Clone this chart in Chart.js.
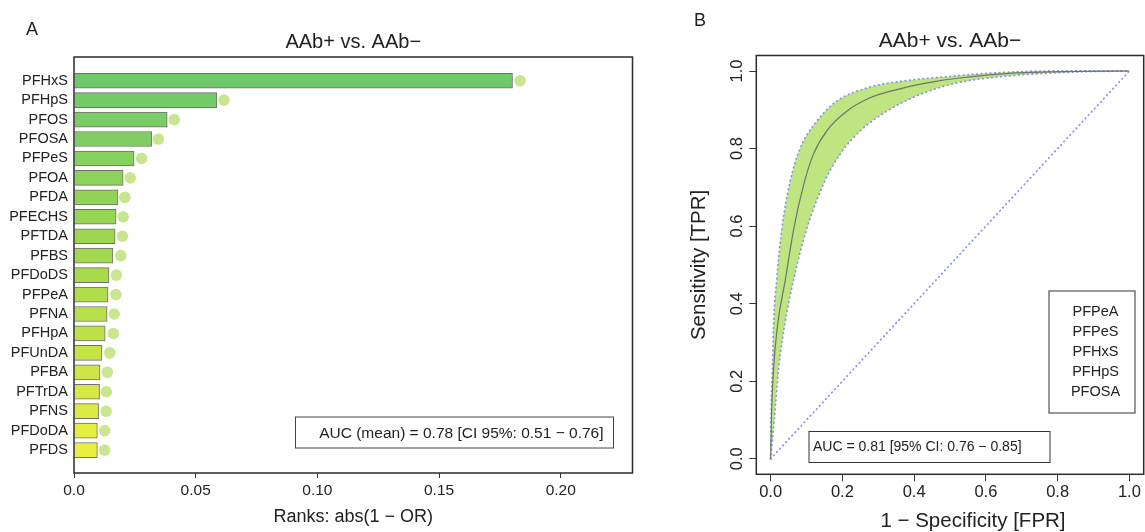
<!DOCTYPE html>
<html lang="en">
<head>
  <meta charset="UTF-8" />
  <title>AAb+ vs. AAb- ranks and ROC</title>
  <script src="https://cdn.jsdelivr.net/npm/chart.js"></script>
  <style>
    body {
      margin: 0;
      background: #fff;
      width: 1145px;
      height: 532px;
      overflow: hidden;
      position: relative;
    }
    canvas {
      position: absolute;
      top: 0;
    }
    #rankChart { left: 0; }
    #rocChart { left: 680px; }
  </style>
</head>
<body>
  <canvas id="rankChart" width="645" height="532"></canvas>
  <canvas id="rocChart" width="465" height="532"></canvas>
  <script>
    // panel A data
    const categories = ['PFHxS', 'PFHpS', 'PFOS', 'PFOSA', 'PFPeS', 'PFOA', 'PFDA', 'PFECHS', 'PFTDA', 'PFBS',
      'PFDoDS', 'PFPeA', 'PFNA', 'PFHpA', 'PFUnDA', 'PFBA', 'PFTrDA', 'PFNS', 'PFDoDA', 'PFDS'];
    const rankValues = [0.1802, 0.0587, 0.0383, 0.0319, 0.0247, 0.0202, 0.0181, 0.0173, 0.0169, 0.0160,
      0.0144, 0.0140, 0.0136, 0.0128, 0.0115, 0.0107, 0.0105, 0.0101, 0.0096, 0.0096];
    const dotValues = [0.1833, 0.0616, 0.0412, 0.0347, 0.0278, 0.0231, 0.0209, 0.0202, 0.0199, 0.0192,
      0.0174, 0.0172, 0.0165, 0.0162, 0.0147, 0.0137, 0.0133, 0.0132, 0.0126, 0.0126];
    const rankTicks = [0, 0.05, 0.10, 0.15, 0.20];
    const rankTickLabels = ['0.0', '0.05', '0.10', '0.15', '0.20'];

    // panel B data
    const meanFpr = [0, 0.002, 0.008, 0.020, 0.041, 0.064, 0.093, 0.119, 0.156, 0.212, 0.277, 0.369, 0.452, 0.527, 0.684, 0.850, 1];
    const meanTpr = [0, 0.10, 0.23, 0.35, 0.462, 0.591, 0.71, 0.785, 0.845, 0.896, 0.931, 0.956, 0.972, 0.982, 0.995, 0.999, 1];
    const upperFpr = [0, 0.001, 0.005, 0.008, 0.017, 0.031, 0.054, 0.082, 0.128, 0.184, 0.267, 0.360, 0.499, 0.620, 0.776, 1];
    const upperTpr = [0, 0.10, 0.23, 0.34, 0.462, 0.591, 0.714, 0.80, 0.87, 0.922, 0.956, 0.973, 0.986, 0.995, 1.0, 1];
    const lowerFpr = [0, 0.010, 0.022, 0.040, 0.064, 0.100, 0.150, 0.193, 0.249, 0.323, 0.415, 0.518, 0.684, 0.870, 1];
    const lowerTpr = [0, 0.10, 0.23, 0.35, 0.462, 0.591, 0.714, 0.785, 0.845, 0.896, 0.939, 0.969, 0.989, 0.998, 1];
    const rocTicks = [0, 0.2, 0.4, 0.6, 0.8, 1.0];
    const rocTickLabels = ['0.0', '0.2', '0.4', '0.6', '0.8', '1.0'];
    const legendItems = ['PFPeA', 'PFPeS', 'PFHxS', 'PFHpS', 'PFOSA'];

    const FONT = "'Liberation Sans', Arial, Helvetica, sans-serif";
    const INK = '#222';

    function pts(xs, ys) {
      return xs.map((x, i) => ({ x: x, y: ys[i] }));
    }

    // green -> yellow ramp for the bars
    function rampColor(i, n) {
      const stops = [[111, 201, 106], [165, 217, 76], [235, 240, 64]];
      const t = i / (n - 1) * 2;
      const k = Math.min(1, Math.floor(t));
      const f = t - k;
      const a = stops[k], b = stops[k + 1];
      const c = a.map((v, j) => Math.round(v + (b[j] - v) * f));
      return `rgb(${c[0]},${c[1]},${c[2]})`;
    }

    const rankDecor = {
      id: 'rankDecor',
      afterDraw(chart) {
        const { ctx, chartArea: ca } = chart;
        ctx.save();
        ctx.strokeStyle = '#2b2b2b';
        ctx.lineWidth = 1.5;
        ctx.strokeRect(ca.left, ca.top, ca.right - ca.left, ca.bottom - ca.top);

        ctx.fillStyle = INK;
        ctx.textBaseline = 'middle';
        ctx.textAlign = 'center';
        ctx.font = `18px ${FONT}`;
        ctx.fillText('A', 32, 30);
        ctx.font = `20px ${FONT}`;
        ctx.fillText('AAb+ vs. AAb\u2212', (ca.left + ca.right) / 2, 42);

        // AUC box
        const bx = ca.right - 337, by = ca.bottom - 56, bw = 318, bh = 31;
        ctx.lineWidth = 1;
        ctx.strokeStyle = '#444';
        ctx.strokeRect(bx, by, bw, bh);
        ctx.font = `15.5px ${FONT}`;
        ctx.textAlign = 'right';
        ctx.fillText('AUC (mean) = 0.78 [CI 95%: 0.51 \u2212 0.76]', bx + bw - 10, by + bh / 2 + 1);
        ctx.restore();
      }
    };

    new Chart(document.getElementById('rankChart'), {
      type: 'bar',
      data: {
        datasets: [
          {
            type: 'bar',
            indexAxis: 'y',
            data: pts(rankValues, categories.map((c, i) => i)),
            backgroundColor: categories.map((c, i) => rampColor(i, categories.length)),
            borderColor: '#6f6f6f',
            borderWidth: 1,
            barThickness: 15,
            order: 1
          },
          {
            type: 'scatter',
            data: pts(dotValues, categories.map((c, i) => i)),
            backgroundColor: '#c8e690',
            borderWidth: 0,
            pointRadius: 5.8,
            order: 2
          }
        ]
      },
      options: {
        responsive: false,
        animation: false,
        indexAxis: 'y',
        layout: { padding: { top: 57, right: 12.5, left: 0, bottom: 0 } },
        plugins: { legend: { display: false }, tooltip: { enabled: false } },
        scales: {
          x: {
            type: 'linear',
            position: 'bottom',
            min: 0,
            max: 0.2295,
            offset: false,
            afterBuildTicks: s => { s.ticks = rankTicks.map(v => ({ value: v })); },
            afterFit: s => { s.height = 59; },
            grid: { drawOnChartArea: false, tickLength: 5, color: '#333' },
            border: { display: false },
            ticks: {
              padding: 3,
              color: INK,
              font: { family: FONT, size: 15.5 },
              callback: v => rankTickLabels[rankTicks.indexOf(v)]
            },
            title: {
              display: true,
              text: 'Ranks: abs(1 \u2212 OR)',
              color: INK,
              font: { family: FONT, size: 18 },
              padding: { top: 0, bottom: 4 }
            }
          },
          y: {
            type: 'linear',
            reverse: true,
            offset: false,
            min: -1.22,
            max: 20.18,
            afterBuildTicks: s => { s.ticks = categories.map((c, i) => ({ value: i })); },
            afterFit: s => { s.width = 74; },
            grid: { display: false, drawTicks: false, tickLength: 0 },
            border: { display: false },
            ticks: {
              autoSkip: false,
              padding: 6,
              color: INK,
              font: { family: FONT, size: 14.5 },
              callback: v => categories[v]
            }
          }
        }
      },
      plugins: [rankDecor]
    });

    const rocDecor = {
      id: 'rocDecor',
      afterDraw(chart) {
        const { ctx, chartArea: ca } = chart;
        const ys = chart.scales.y;
        ctx.save();
        ctx.strokeStyle = '#2b2b2b';
        ctx.lineWidth = 1.5;
        ctx.strokeRect(ca.left, ca.top, ca.right - ca.left, ca.bottom - ca.top);

        ctx.fillStyle = INK;
        ctx.textBaseline = 'middle';
        ctx.textAlign = 'center';
        ctx.font = `18px ${FONT}`;
        ctx.fillText('B', 20, 21);
        ctx.font = `21px ${FONT}`;
        ctx.fillText('AAb+ vs. AAb\u2212', (ca.left + ca.right) / 2, 41);

        // x axis title sits right of centre: the figure is cut at its right edge
        ctx.font = `20.5px ${FONT}`;
        ctx.fillText('1 \u2212 Specificity [FPR]', 293, 521);

        // rotated y tick labels, R style
        ctx.font = `16.5px ${FONT}`;
        rocTicks.forEach((v, i) => {
          ctx.save();
          ctx.translate(57, ys.getPixelForValue(v));
          ctx.rotate(-Math.PI / 2);
          ctx.fillText(rocTickLabels[i], 0, 0);
          ctx.restore();
        });

        // legend box
        ctx.lineWidth = 1;
        ctx.strokeStyle = '#333';
        ctx.strokeRect(369, 291, 86, 122);
        ctx.font = `14.5px ${FONT}`;
        legendItems.forEach((t, i) => ctx.fillText(t, 415.5, 312 + i * 20));

        // AUC box
        ctx.strokeRect(129, 431.5, 241, 31);
        ctx.textAlign = 'left';
        ctx.font = `14px ${FONT}`;
        ctx.fillText('AUC = 0.81 [95% CI: 0.76 \u2212 0.85]', 133, 447.5);
        ctx.restore();
      }
    };

    const dotted = {
      borderColor: '#8693e4',
      borderWidth: 1.8,
      borderDash: [0.5, 4],
      borderCapStyle: 'round',
      pointRadius: 0,
      fill: false
    };

    new Chart(document.getElementById('rocChart'), {
      type: 'line',
      data: {
        datasets: [
          {
            data: pts(meanFpr, meanTpr),
            borderColor: '#6e7466',
            borderWidth: 1.2,
            pointRadius: 0,
            cubicInterpolationMode: 'monotone',
            fill: false,
            order: 1
          },
          Object.assign({ data: pts(upperFpr, upperTpr), cubicInterpolationMode: 'monotone', order: 2 }, dotted),
          Object.assign({ data: pts(lowerFpr, lowerTpr), cubicInterpolationMode: 'monotone', order: 3 }, dotted),
          Object.assign({ data: pts([0, 1], [0, 1]), order: 4 }, dotted),
          {
            data: pts(upperFpr, upperTpr),
            borderWidth: 0,
            borderColor: 'rgba(0,0,0,0)',
            backgroundColor: '#bfe583',
            pointRadius: 0,
            cubicInterpolationMode: 'monotone',
            fill: 2,
            order: 5
          }
        ]
      },
      options: {
        responsive: false,
        animation: false,
        layout: { padding: { top: 55.5, right: 1.3, left: 0, bottom: 0 } },
        plugins: { legend: { display: false }, tooltip: { enabled: false } },
        scales: {
          x: {
            type: 'linear',
            min: -0.04,
            max: 1.04,
            afterBuildTicks: s => { s.ticks = rocTicks.map(v => ({ value: v })); },
            afterFit: s => { s.height = 57.7; },
            grid: { drawOnChartArea: false, tickLength: 7, color: '#333' },
            border: { display: false },
            ticks: {
              padding: 1,
              color: INK,
              font: { family: FONT, size: 16.5 },
              callback: v => rocTickLabels[rocTicks.indexOf(v)]
            },
            title: { display: false }
          },
          y: {
            type: 'linear',
            min: -0.04,
            max: 1.04,
            afterBuildTicks: s => { s.ticks = rocTicks.map(v => ({ value: v })); },
            afterFit: s => { s.width = 76.3; },
            grid: { drawOnChartArea: false, tickLength: 7, color: '#333' },
            border: { display: false },
            ticks: { display: false },
            title: {
              display: true,
              text: 'Sensitivity [TPR]',
              color: INK,
              font: { family: FONT, size: 20.5 },
              padding: { top: 7, bottom: 0 }
            }
          }
        }
      },
      plugins: [rocDecor]
    });
  </script>
</body>
</html>
